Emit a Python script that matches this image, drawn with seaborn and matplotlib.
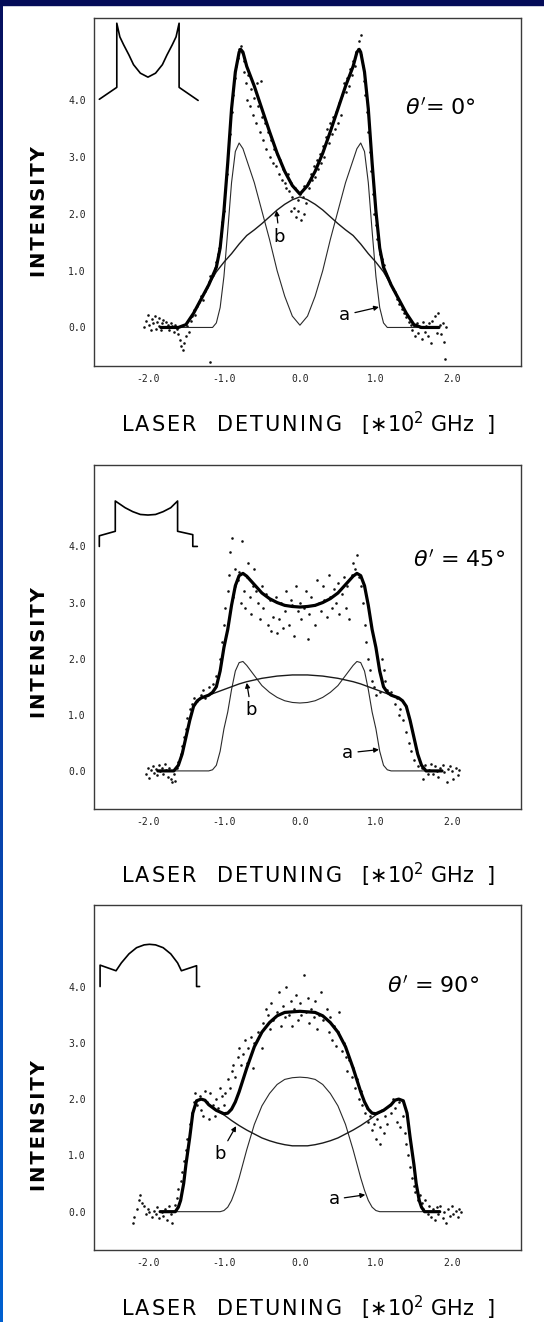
import numpy as np
import matplotlib
matplotlib.use("Agg")
import matplotlib.pyplot as plt
import seaborn as sns
from matplotlib.colors import LinearSegmentedColormap
from matplotlib.patches import Rectangle

# ticks and labels
x_ticks = [-2.0, -1.0, 0.0, 1.0, 2.0]
y_ticks = [0.0, 1.0, 2.0, 3.0, 4.0]
x_tick_labels = ["-2.0", "-1.0", "0.0", "1.0", "2.0"]
y_tick_labels = ["0.0", "1.0", "2.0", "3.0", "4.0"]
angle_labels = [r"$\theta'$= 0°", r"$\theta'$ = 45°", r"$\theta'$ = 90°"]

# ---- theta' = 0 deg ----
fit_0 = [(-1.83, 0.0), (-1.6, 0.0), (-1.5, 0.05), (-1.4, 0.25), (-1.3, 0.5), (-1.2, 0.75),
         (-1.1, 1.06), (-1.05, 1.4), (-1.0, 2.05), (-0.95, 2.9), (-0.9, 3.85), (-0.85, 4.5),
         (-0.8, 4.85), (-0.78, 4.9), (-0.75, 4.85), (-0.7, 4.6), (-0.6, 4.25), (-0.5, 3.85),
         (-0.4, 3.45), (-0.3, 3.07), (-0.2, 2.75), (-0.1, 2.5), (0.0, 2.35), (0.1, 2.5),
         (0.2, 2.75), (0.3, 3.07), (0.4, 3.45), (0.5, 3.85), (0.6, 4.25), (0.7, 4.6),
         (0.75, 4.85), (0.78, 4.9), (0.8, 4.85), (0.85, 4.5), (0.9, 3.85), (0.95, 2.9),
         (1.0, 2.05), (1.05, 1.4), (1.1, 1.06), (1.2, 0.75), (1.3, 0.5), (1.4, 0.25),
         (1.5, 0.05), (1.6, 0.0), (1.83, 0.0)]
a_0 = [(-1.83, 0.0), (-1.15, 0.0), (-1.1, 0.08), (-1.05, 0.35), (-1.0, 0.9), (-0.95, 1.7),
       (-0.9, 2.55), (-0.85, 3.1), (-0.8, 3.25), (-0.75, 3.15), (-0.7, 2.95), (-0.6, 2.55),
       (-0.5, 2.05), (-0.4, 1.55), (-0.3, 1.0), (-0.2, 0.55), (-0.1, 0.2), (0.0, 0.04),
       (0.1, 0.2), (0.2, 0.55), (0.3, 1.0), (0.4, 1.55), (0.5, 2.05), (0.6, 2.55), (0.7, 2.95),
       (0.75, 3.15), (0.8, 3.25), (0.85, 3.1), (0.9, 2.55), (0.95, 1.7), (1.0, 0.9),
       (1.05, 0.35), (1.1, 0.08), (1.15, 0.0), (1.83, 0.0)]
b_0 = [(-1.5, 0.05), (-1.4, 0.25), (-1.3, 0.5), (-1.2, 0.75), (-1.1, 0.98), (-1.0, 1.15),
       (-0.9, 1.3), (-0.8, 1.47), (-0.7, 1.62), (-0.6, 1.72), (-0.5, 1.83), (-0.4, 1.95),
       (-0.3, 2.07), (-0.2, 2.17), (-0.1, 2.25), (0.0, 2.3), (0.1, 2.25), (0.2, 2.17),
       (0.3, 2.07), (0.4, 1.95), (0.5, 1.83), (0.6, 1.72), (0.7, 1.62), (0.8, 1.47),
       (0.9, 1.3), (1.0, 1.15), (1.1, 0.98), (1.2, 0.75), (1.3, 0.5), (1.4, 0.25), (1.5, 0.05)]
dots_0 = [(-2.05, 0.0), (-2.03, 0.12), (-2.0, 0.22), (-1.98, 0.05), (-1.96, -0.05), (-1.95, 0.15),
          (-1.93, 0.08), (-1.91, 0.2), (-1.9, -0.03), (-1.88, 0.1), (-1.86, 0.03), (-1.85, 0.16),
          (-1.83, -0.05), (-1.81, 0.08), (-1.8, 0.13), (-1.78, 0.0), (-1.76, 0.1), (-1.74, 0.05),
          (-1.72, -0.04), (-1.7, 0.08), (-1.68, 0.02), (-1.66, -0.08), (-1.64, 0.05), (-1.62, -0.02),
          (-1.6, -0.12), (-1.58, -0.22), (-1.56, -0.32), (-1.54, -0.4), (-1.52, -0.28), (-1.5, -0.15),
          (-1.48, 0.02), (-1.46, -0.08), (-1.44, 0.12), (-1.42, 0.2), (-1.4, 0.3), (-1.38, 0.22),
          (-1.36, 0.38), (-1.33, 0.45), (-1.3, 0.55), (-1.28, 0.48), (-1.25, 0.65), (-1.22, 0.72),
          (-1.2, 0.8), (-1.19, -0.6), (-1.18, 0.9), (-1.15, 0.92), (-1.12, 1.05), (-1.1, 1.15),
          (-1.08, 1.3), (-1.06, 1.4), (-1.04, 1.62), (-1.02, 1.85), (-1.0, 2.05), (-0.98, 2.4),
          (-0.96, 2.7), (-0.94, 3.1), (-0.92, 3.4), (-0.9, 3.8), (-0.88, 4.1), (-0.86, 4.4),
          (-0.84, 4.6), (-0.82, 4.75), (-0.8, 4.9), (-0.78, 4.95), (-0.76, 4.85), (-0.74, 4.7),
          (-0.73, 4.5), (-0.71, 4.3), (-0.7, 4.0), (-0.68, 4.45), (-0.66, 3.9), (-0.64, 4.2),
          (-0.62, 3.75), (-0.6, 4.05), (-0.58, 3.6), (-0.56, 4.3), (-0.55, 3.9), (-0.53, 3.45),
          (-0.51, 4.35), (-0.5, 3.7), (-0.48, 3.3), (-0.46, 3.6), (-0.44, 3.15), (-0.42, 3.45),
          (-0.4, 3.0), (-0.38, 3.3), (-0.36, 2.9), (-0.34, 3.15), (-0.32, 2.85), (-0.3, 3.05),
          (-0.28, 2.7), (-0.26, 2.95), (-0.24, 2.6), (-0.22, 2.8), (-0.2, 2.55), (-0.18, 2.45),
          (-0.16, 2.7), (-0.14, 2.4), (-0.12, 2.55), (-0.12, 2.05), (-0.1, 2.3), (-0.08, 2.1),
          (-0.06, 2.45), (-0.05, 1.95), (-0.03, 2.25), (-0.02, 2.05), (0.0, 2.35), (0.02, 1.9),
          (0.04, 2.3), (0.05, 2.0), (0.06, 2.5), (0.08, 2.2), (0.1, 2.55), (0.12, 2.45),
          (0.14, 2.7), (0.16, 2.6), (0.18, 2.85), (0.2, 2.65), (0.22, 2.95), (0.24, 2.8),
          (0.26, 3.05), (0.28, 2.9), (0.3, 3.2), (0.32, 3.0), (0.34, 3.35), (0.36, 3.5),
          (0.38, 3.25), (0.4, 3.6), (0.42, 3.4), (0.44, 3.7), (0.46, 3.5), (0.48, 3.8),
          (0.5, 3.6), (0.52, 3.95), (0.54, 3.75), (0.56, 4.1), (0.58, 4.3), (0.6, 4.15),
          (0.62, 4.4), (0.64, 4.25), (0.66, 4.55), (0.68, 4.45), (0.7, 4.7), (0.72, 4.6),
          (0.74, 4.85), (0.76, 4.9), (0.78, 5.05), (0.8, 5.15), (0.81, 4.8), (0.83, 4.6),
          (0.84, 4.35), (0.86, 4.1), (0.88, 3.8), (0.9, 3.45), (0.92, 3.1), (0.94, 2.75),
          (0.96, 2.35), (0.98, 2.0), (1.0, 1.8), (1.02, 1.55), (1.04, 1.45), (1.06, 1.3),
          (1.08, 1.2), (1.1, 1.1), (1.13, 0.95), (1.16, 0.88), (1.19, 0.78), (1.22, 0.68),
          (1.25, 0.62), (1.28, 0.5), (1.31, 0.42), (1.34, 0.32), (1.37, 0.25), (1.4, 0.18),
          (1.43, 0.1), (1.46, 0.05), (1.48, -0.05), (1.5, 0.02), (1.52, -0.15), (1.54, 0.08),
          (1.56, -0.1), (1.58, 0.0), (1.6, -0.2), (1.62, 0.1), (1.64, -0.08), (1.66, 0.02),
          (1.68, -0.15), (1.7, 0.08), (1.72, -0.28), (1.74, 0.12), (1.76, 0.0), (1.78, 0.2),
          (1.8, -0.1), (1.82, 0.25), (1.84, 0.05), (1.86, -0.12), (1.88, 0.08), (1.9, -0.25),
          (1.91, -0.55), (1.92, 0.0)]
inset_0 = [(-2.64, 4.02), (-2.41, 4.23), (-2.41, 5.36), (-2.37, 5.12), (-2.32, 4.98),
           (-2.25, 4.8), (-2.19, 4.63), (-2.1, 4.48), (-2.0, 4.41), (-1.9, 4.48), (-1.81, 4.63),
           (-1.75, 4.8), (-1.68, 4.98), (-1.63, 5.12), (-1.59, 5.36), (-1.59, 4.23), (-1.34, 4.0)]

# ---- theta' = 45 deg ----
fit_45 = [(-1.87, 0.0), (-1.66, 0.0), (-1.6, 0.1), (-1.55, 0.3), (-1.5, 0.6), (-1.45, 0.9),
          (-1.4, 1.15), (-1.35, 1.25), (-1.3, 1.3), (-1.2, 1.35), (-1.15, 1.4), (-1.1, 1.5),
          (-1.05, 1.78), (-1.0, 2.2), (-0.95, 2.52), (-0.9, 2.95), (-0.85, 3.3), (-0.8, 3.48),
          (-0.75, 3.52), (-0.7, 3.47), (-0.6, 3.32), (-0.5, 3.17), (-0.4, 3.07), (-0.3, 3.0),
          (-0.2, 2.95), (-0.1, 2.93), (0.0, 2.92), (0.1, 2.93), (0.2, 2.95), (0.3, 3.0),
          (0.4, 3.07), (0.5, 3.17), (0.6, 3.32), (0.7, 3.47), (0.75, 3.52), (0.8, 3.48),
          (0.85, 3.3), (0.9, 2.95), (0.95, 2.52), (1.0, 2.2), (1.05, 1.78), (1.1, 1.5),
          (1.15, 1.4), (1.2, 1.35), (1.3, 1.3), (1.35, 1.25), (1.4, 1.15), (1.45, 0.9),
          (1.5, 0.6), (1.55, 0.3), (1.6, 0.1), (1.66, 0.0), (1.87, 0.0)]
a_45 = [(-1.87, 0.0), (-1.2, 0.0), (-1.15, 0.02), (-1.1, 0.1), (-1.05, 0.35), (-1.0, 0.75),
        (-0.95, 1.05), (-0.9, 1.45), (-0.85, 1.78), (-0.8, 1.93), (-0.75, 1.95), (-0.7, 1.88),
        (-0.6, 1.7), (-0.5, 1.52), (-0.4, 1.4), (-0.3, 1.31), (-0.2, 1.25), (-0.1, 1.22),
        (0.0, 1.21), (0.1, 1.22), (0.2, 1.25), (0.3, 1.31), (0.4, 1.4), (0.5, 1.52), (0.6, 1.7),
        (0.7, 1.88), (0.75, 1.95), (0.8, 1.93), (0.85, 1.78), (0.9, 1.45), (0.95, 1.05),
        (1.0, 0.75), (1.05, 0.35), (1.1, 0.1), (1.15, 0.02), (1.2, 0.0), (1.87, 0.0)]
b_45 = [(-1.66, 0.0), (-1.6, 0.1), (-1.55, 0.3), (-1.5, 0.6), (-1.45, 0.9), (-1.4, 1.15),
        (-1.35, 1.25), (-1.3, 1.3), (-1.2, 1.35), (-1.1, 1.4), (-1.0, 1.45), (-0.9, 1.5),
        (-0.8, 1.55), (-0.7, 1.59), (-0.6, 1.62), (-0.5, 1.65), (-0.4, 1.67), (-0.3, 1.69),
        (-0.2, 1.7), (-0.1, 1.71), (0.0, 1.71), (0.1, 1.71), (0.2, 1.7), (0.3, 1.69),
        (0.4, 1.67), (0.5, 1.65), (0.6, 1.62), (0.7, 1.59), (0.8, 1.55), (0.9, 1.5),
        (1.0, 1.45), (1.1, 1.4), (1.2, 1.35), (1.3, 1.3), (1.35, 1.25), (1.4, 1.15),
        (1.45, 0.9), (1.5, 0.6), (1.55, 0.3), (1.6, 0.1), (1.66, 0.0)]
dots_45 = [(-2.02, -0.05), (-2.0, 0.05), (-1.98, -0.12), (-1.96, 0.02), (-1.94, 0.08),
           (-1.92, -0.03), (-1.9, 0.04), (-1.88, -0.08), (-1.86, 0.1), (-1.84, 0.0), (-1.82, 0.06),
           (-1.8, -0.05), (-1.78, 0.12), (-1.76, 0.02), (-1.74, -0.1), (-1.72, 0.05), (-1.7, -0.15),
           (-1.68, -0.2), (-1.66, -0.05), (-1.64, -0.18), (-1.62, 0.05), (-1.6, 0.15), (-1.57, 0.3),
           (-1.55, 0.45), (-1.52, 0.6), (-1.5, 0.75), (-1.48, 0.95), (-1.45, 1.1), (-1.42, 1.2),
           (-1.4, 1.3), (-1.35, 1.25), (-1.3, 1.35), (-1.28, 1.45), (-1.25, 1.3), (-1.2, 1.5),
           (-1.15, 1.55), (-1.1, 1.7), (-1.05, 2.0), (-1.02, 2.3), (-1.0, 2.6), (-0.98, 2.9),
           (-0.95, 3.2), (-0.93, 3.5), (-0.92, 3.9), (-0.9, 4.15), (-0.88, 3.1), (-0.86, 3.6),
           (-0.85, 3.3), (-0.82, 3.4), (-0.8, 3.55), (-0.78, 3.0), (-0.76, 4.1), (-0.74, 3.2),
           (-0.72, 2.9), (-0.7, 3.45), (-0.68, 3.7), (-0.66, 3.1), (-0.64, 2.8), (-0.62, 3.3),
           (-0.6, 3.6), (-0.58, 3.2), (-0.55, 3.0), (-0.52, 2.7), (-0.5, 3.3), (-0.48, 2.9),
           (-0.45, 3.15), (-0.42, 2.6), (-0.4, 3.05), (-0.38, 2.5), (-0.35, 2.75), (-0.32, 3.1),
           (-0.3, 2.45), (-0.28, 2.7), (-0.25, 3.0), (-0.22, 2.55), (-0.2, 2.85), (-0.18, 3.2),
           (-0.15, 2.6), (-0.12, 3.05), (-0.1, 2.95), (-0.08, 2.4), (-0.05, 3.3), (-0.02, 2.85),
           (0.0, 3.0), (0.02, 2.7), (0.05, 2.9), (0.08, 3.2), (0.1, 2.35), (0.12, 2.8),
           (0.15, 3.1), (0.18, 2.95), (0.2, 2.6), (0.22, 3.4), (0.25, 3.0), (0.28, 2.85),
           (0.3, 3.3), (0.32, 3.05), (0.35, 2.75), (0.38, 3.5), (0.4, 3.1), (0.42, 2.9),
           (0.45, 3.25), (0.48, 3.0), (0.5, 3.35), (0.52, 2.8), (0.55, 3.15), (0.58, 3.45),
           (0.6, 2.9), (0.62, 3.3), (0.65, 2.7), (0.68, 3.5), (0.7, 3.7), (0.72, 3.6),
           (0.75, 3.85), (0.78, 3.45), (0.8, 3.3), (0.83, 3.0), (0.85, 2.6), (0.87, 2.3),
           (0.9, 2.0), (0.92, 1.8), (0.95, 1.6), (0.98, 1.5), (1.0, 1.35), (1.05, 1.4),
           (1.08, 2.0), (1.1, 1.8), (1.12, 1.6), (1.15, 1.45), (1.2, 1.4), (1.25, 1.2),
           (1.28, 1.3), (1.3, 1.0), (1.32, 1.1), (1.35, 0.9), (1.4, 0.7), (1.43, 0.5),
           (1.46, 0.35), (1.5, 0.2), (1.55, 0.08), (1.6, 0.05), (1.62, -0.15), (1.65, 0.1),
           (1.68, -0.05), (1.7, 0.02), (1.72, 0.12), (1.75, -0.05), (1.78, 0.08), (1.8, 0.0),
           (1.82, -0.1), (1.85, 0.05), (1.88, 0.1), (1.9, -0.02), (1.93, -0.2), (1.95, 0.03),
           (1.98, 0.08), (2.0, 0.0), (2.02, -0.15), (2.05, 0.05), (2.08, -0.08), (2.1, 0.02)]
inset_45 = [(-2.64, 4.0), (-2.64, 4.19), (-2.43, 4.27), (-2.43, 4.81), (-2.3, 4.69),
            (-2.2, 4.62), (-2.1, 4.57), (-2.0, 4.56), (-1.9, 4.57), (-1.8, 4.62), (-1.7, 4.69),
            (-1.61, 4.81), (-1.61, 4.27), (-1.41, 4.21), (-1.41, 4.0), (-1.35, 4.0)]

# ---- theta' = 90 deg ----
fit_90 = [(-1.84, 0.0), (-1.64, 0.0), (-1.6, 0.08), (-1.57, 0.2), (-1.53, 0.5), (-1.5, 0.84),
          (-1.45, 1.32), (-1.41, 1.75), (-1.36, 1.97), (-1.3, 2.0), (-1.25, 1.98), (-1.2, 1.9),
          (-1.1, 1.8), (-1.0, 1.74), (-0.95, 1.75), (-0.9, 1.82), (-0.85, 1.95), (-0.8, 2.13),
          (-0.7, 2.55), (-0.6, 2.93), (-0.5, 3.19), (-0.4, 3.36), (-0.3, 3.48), (-0.2, 3.54),
          (-0.1, 3.55), (0.0, 3.56), (0.1, 3.55), (0.2, 3.54), (0.3, 3.48), (0.4, 3.36),
          (0.5, 3.19), (0.6, 2.93), (0.7, 2.55), (0.8, 2.13), (0.85, 1.95), (0.9, 1.82),
          (0.95, 1.75), (1.0, 1.74), (1.1, 1.8), (1.2, 1.9), (1.25, 1.98), (1.3, 2.0),
          (1.36, 1.97), (1.41, 1.75), (1.45, 1.32), (1.5, 0.84), (1.53, 0.5), (1.57, 0.2),
          (1.6, 0.08), (1.64, 0.0), (1.84, 0.0)]
a_90 = [(-1.84, 0.0), (-1.05, 0.0), (-1.0, 0.02), (-0.95, 0.08), (-0.9, 0.2), (-0.85, 0.38),
        (-0.8, 0.6), (-0.7, 1.1), (-0.6, 1.55), (-0.5, 1.88), (-0.4, 2.1), (-0.3, 2.26),
        (-0.2, 2.35), (-0.1, 2.38), (0.0, 2.39), (0.1, 2.38), (0.2, 2.35), (0.3, 2.26),
        (0.4, 2.1), (0.5, 1.88), (0.6, 1.55), (0.7, 1.1), (0.8, 0.6), (0.85, 0.38), (0.9, 0.2),
        (0.95, 0.08), (1.0, 0.02), (1.05, 0.0), (1.84, 0.0)]
b_90 = [(-1.64, 0.0), (-1.6, 0.08), (-1.57, 0.2), (-1.53, 0.5), (-1.5, 0.84), (-1.45, 1.32),
        (-1.41, 1.75), (-1.36, 1.97), (-1.3, 2.0), (-1.25, 1.98), (-1.2, 1.9), (-1.1, 1.8),
        (-1.0, 1.72), (-0.9, 1.62), (-0.8, 1.53), (-0.7, 1.45), (-0.6, 1.38), (-0.5, 1.31),
        (-0.4, 1.26), (-0.3, 1.22), (-0.2, 1.19), (-0.1, 1.17), (0.0, 1.17), (0.1, 1.17),
        (0.2, 1.19), (0.3, 1.22), (0.4, 1.26), (0.5, 1.31), (0.6, 1.38), (0.7, 1.45),
        (0.8, 1.53), (0.9, 1.62), (1.0, 1.72), (1.1, 1.8), (1.2, 1.9), (1.25, 1.98),
        (1.3, 2.0), (1.36, 1.97), (1.41, 1.75), (1.45, 1.32), (1.5, 0.84), (1.53, 0.5),
        (1.57, 0.2), (1.6, 0.08), (1.64, 0.0)]
dots_90 = [(-2.2, -0.2), (-2.18, -0.1), (-2.15, 0.05), (-2.12, 0.2), (-2.1, 0.3), (-2.08, 0.15),
           (-2.05, 0.1), (-2.02, -0.05), (-2.0, 0.05), (-1.98, 0.0), (-1.95, -0.1), (-1.92, 0.02),
           (-1.9, -0.05), (-1.88, 0.08), (-1.85, -0.12), (-1.82, 0.0), (-1.8, -0.08), (-1.78, 0.05),
           (-1.75, -0.15), (-1.72, 0.1), (-1.7, -0.05), (-1.68, -0.2), (-1.65, 0.12), (-1.62, 0.25),
           (-1.6, 0.4), (-1.57, 0.55), (-1.55, 0.7), (-1.52, 0.9), (-1.5, 1.1), (-1.48, 1.3),
           (-1.45, 1.55), (-1.42, 1.75), (-1.4, 1.95), (-1.38, 2.1), (-1.35, 1.9), (-1.32, 2.05),
           (-1.3, 1.8), (-1.28, 1.7), (-1.25, 2.15), (-1.22, 1.95), (-1.2, 1.65), (-1.18, 2.1),
           (-1.15, 1.9), (-1.12, 1.7), (-1.1, 2.0), (-1.08, 1.85), (-1.05, 2.2), (-1.02, 2.05),
           (-1.0, 1.9), (-0.98, 2.1), (-0.95, 2.35), (-0.92, 2.2), (-0.9, 2.5), (-0.88, 2.6),
           (-0.85, 2.4), (-0.82, 2.75), (-0.8, 2.9), (-0.78, 2.6), (-0.75, 2.8), (-0.72, 3.05),
           (-0.7, 2.65), (-0.68, 2.9), (-0.65, 3.1), (-0.62, 2.55), (-0.6, 3.0), (-0.55, 3.2),
           (-0.5, 2.9), (-0.48, 3.35), (-0.45, 3.6), (-0.42, 3.5), (-0.4, 3.25), (-0.38, 3.7),
           (-0.35, 3.4), (-0.3, 3.55), (-0.28, 3.9), (-0.25, 3.3), (-0.22, 3.65), (-0.2, 3.45),
           (-0.18, 4.0), (-0.15, 3.5), (-0.12, 3.75), (-0.1, 3.3), (-0.08, 3.6), (-0.05, 3.85),
           (-0.02, 3.4), (0.0, 3.7), (0.02, 3.5), (0.05, 4.2), (0.08, 3.55), (0.1, 3.8),
           (0.12, 3.35), (0.15, 3.6), (0.18, 3.45), (0.2, 3.75), (0.22, 3.25), (0.25, 3.5),
           (0.28, 3.9), (0.3, 3.4), (0.35, 3.6), (0.38, 3.2), (0.4, 3.45), (0.42, 3.05),
           (0.45, 3.3), (0.48, 2.95), (0.5, 3.2), (0.52, 3.55), (0.55, 2.85), (0.58, 3.0),
           (0.6, 2.75), (0.62, 2.5), (0.65, 2.7), (0.68, 2.4), (0.7, 2.55), (0.72, 2.2),
           (0.75, 2.35), (0.78, 2.0), (0.8, 2.15), (0.82, 1.9), (0.85, 1.75), (0.88, 1.85),
           (0.9, 1.6), (0.92, 1.7), (0.95, 1.45), (0.98, 1.55), (1.0, 1.3), (1.02, 1.65),
           (1.05, 1.2), (1.06, 1.5), (1.08, 1.8), (1.1, 1.4), (1.12, 1.7), (1.15, 1.55),
           (1.18, 1.9), (1.2, 1.75), (1.22, 2.0), (1.25, 1.85), (1.28, 1.6), (1.3, 1.95),
           (1.32, 1.5), (1.35, 1.7), (1.38, 1.4), (1.4, 1.2), (1.42, 1.0), (1.45, 0.8),
           (1.48, 0.6), (1.5, 0.45), (1.52, 0.35), (1.55, 0.2), (1.58, 0.3), (1.6, 0.15),
           (1.62, 0.05), (1.65, 0.2), (1.68, -0.05), (1.7, 0.1), (1.72, -0.1), (1.75, 0.05),
           (1.78, -0.15), (1.8, 0.08), (1.82, -0.05), (1.85, 0.1), (1.88, -0.12), (1.9, 0.0),
           (1.92, -0.2), (1.95, 0.05), (1.98, -0.08), (2.0, 0.1), (2.02, -0.05), (2.05, 0.02),
           (2.08, -0.1), (2.1, 0.05), (2.12, 0.0)]
inset_90 = [(-2.63, 4.0), (-2.63, 4.38), (-2.42, 4.28), (-2.35, 4.42), (-2.25, 4.58),
            (-2.15, 4.69), (-2.05, 4.74), (-1.98, 4.75), (-1.9, 4.74), (-1.8, 4.69),
            (-1.7, 4.58), (-1.61, 4.42), (-1.56, 4.28), (-1.36, 4.37), (-1.36, 4.0), (-1.32, 4.0)]


def spaced(text, gap="\u200a"):
    return " ".join(gap.join(w) for w in text.split(" "))


x_label = spaced("LASER") + "   " + spaced("DETUNING") + "   [\u221710$^{\\mathregular{2}}$ GHz  ]"
y_label = spaced("INTENSITY")

panels = [
    dict(fit=fit_0, a=a_0, b=b_0, dots=dots_0, inset=inset_0, title=angle_labels[0],
         title_xy=(1.85, 3.86), a_xy=(0.59, 0.22), a_tip=(1.04, 0.36),
         b_xy=(-0.27, 1.6), b_tip=(-0.31, 2.06), rect=[0.1728, 0.7231, 0.785, 0.2632],
         xlab_y=-0.165, ylab_y=0.443),
    dict(fit=fit_45, a=a_45, b=b_45, dots=dots_45, inset=inset_45, title=angle_labels[1],
         title_xy=(2.09, 3.76), a_xy=(0.63, 0.32), a_tip=(1.04, 0.38),
         b_xy=(-0.64, 1.08), b_tip=(-0.7, 1.57), rect=[0.1728, 0.3880, 0.785, 0.2602],
         xlab_y=-0.19, ylab_y=0.456),
    dict(fit=fit_90, a=a_90, b=b_90, dots=dots_90, inset=inset_90, title=angle_labels[2],
         title_xy=(1.75, 4.0), a_xy=(0.45, 0.22), a_tip=(0.86, 0.3),
         b_xy=(-1.05, 1.02), b_tip=(-0.84, 1.52), rect=[0.1728, 0.0545, 0.785, 0.2610],
         xlab_y=-0.168, ylab_y=0.36),
]

sns.set_style("white")
plt.rcParams["font.family"] = ["DejaVu Sans"]
plt.rcParams.update({"text.color": "black", "axes.labelcolor": "black"})
fig = plt.figure(figsize=(5.44, 13.22), dpi=100)

for p in panels:
    ax = fig.add_axes(p["rect"])
    dx, dy = np.array(p["dots"]).T
    sns.scatterplot(x=dx, y=dy, ax=ax, s=3.5, color="#111111", linewidth=0, zorder=2)
    for key, lw, col in [("a", 0.8, "#2a2a2a"), ("b", 1.0, "#1a1a1a"), ("fit", 2.3, "black")]:
        cx, cy = np.array(p[key]).T
        sns.lineplot(x=cx, y=cy, ax=ax, color=col, linewidth=lw,
                     estimator=None, sort=False, zorder=4 if key == "fit" else 3)
    ix, iy = np.array(p["inset"]).T
    sns.lineplot(x=ix, y=iy, ax=ax, color="black", linewidth=1.2, estimator=None, sort=False)

    arrow = dict(arrowstyle="-|>", color="black", lw=0.9, mutation_scale=7, shrinkA=1, shrinkB=0)
    ax.annotate("a", xy=p["a_tip"], xytext=p["a_xy"], fontsize=13, ha="center", va="center",
                arrowprops=arrow)
    ax.annotate("b", xy=p["b_tip"], xytext=p["b_xy"], fontsize=13, ha="center", va="center",
                arrowprops=arrow)
    ax.text(*p["title_xy"], p["title"], fontsize=16, ha="center", va="center")

    ax.set_xlim(-2.71, 2.91)
    ax.set_ylim(-0.68, 5.45)
    ax.set_xticks(x_ticks)
    ax.set_xticklabels(x_tick_labels, fontfamily="DejaVu Sans Mono", fontsize=7, color="#222222")
    ax.set_yticks(y_ticks)
    ax.set_yticklabels(y_tick_labels, fontfamily="DejaVu Sans Mono", fontsize=7, color="#222222")
    ax.tick_params(direction="out", length=3, width=0.8, color="#333333", pad=3)
    for s in ax.spines.values():
        s.set_color("#3a3a3a")
        s.set_linewidth(1.0)

    ax.set_xlabel(x_label, fontsize=15, va="center")
    ax.xaxis.set_label_coords(0.5, p["xlab_y"])
    ax.set_ylabel(y_label, fontsize=14, fontweight="bold")
    ax.yaxis.set_label_coords(-0.106, p["ylab_y"])

# blue frame of the original scan: dark bar on top, gradient strip on the left
edge = fig.add_axes([0, 0, 3 / 544, 1])
edge.imshow(np.linspace(0, 1, 256).reshape(-1, 1), aspect="auto",
            cmap=LinearSegmentedColormap.from_list("edge", ["#06105e", "#0a3aa0", "#0060d0"]))
edge.axis("off")
fig.add_artist(Rectangle((0, 1 - 5 / 1322), 1, 5 / 1322, transform=fig.transFigure,
                         color="#040c58", zorder=10))

fig.savefig("out.png", dpi=100)
